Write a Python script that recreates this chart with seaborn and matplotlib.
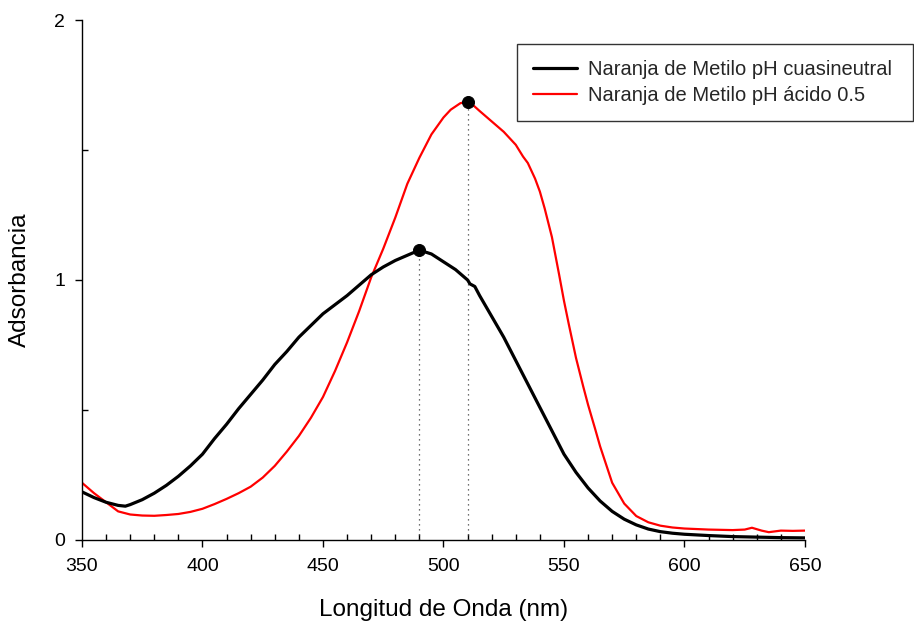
import numpy as np
import pandas as pd
import matplotlib
matplotlib.use("Agg")
import matplotlib.pyplot as plt
import seaborn as sns
from matplotlib.ticker import MultipleLocator
from matplotlib.lines import Line2D

# Espectros
onda_neutro = [350, 355, 360, 365, 368, 370, 375, 380, 385, 390, 395, 400, 405, 410,
               415, 420, 425, 430, 435, 440, 445, 450, 455, 460, 465, 470, 475, 480,
               485, 490, 495, 500, 505, 510, 511, 513, 515, 520, 525, 530, 535, 540,
               545, 550, 555, 560, 565, 570, 575, 580, 585, 590, 595, 600, 610, 620,
               630, 640, 650]
abs_neutro = [0.185, 0.163, 0.145, 0.133, 0.130, 0.136, 0.155, 0.18, 0.21, 0.245, 0.285,
              0.33, 0.39, 0.445, 0.505, 0.56, 0.615, 0.675, 0.725, 0.78, 0.825, 0.87,
              0.905, 0.94, 0.98, 1.02, 1.05, 1.075, 1.095, 1.115, 1.10, 1.07, 1.04, 1.0,
              0.985, 0.975, 0.94, 0.86, 0.78, 0.69, 0.60, 0.51, 0.42, 0.33, 0.26, 0.20,
              0.15, 0.11, 0.08, 0.058, 0.042, 0.032, 0.026, 0.022, 0.017, 0.013, 0.011,
              0.009, 0.008]

onda_acido = [350, 355, 360, 365, 370, 375, 380, 385, 390, 395, 400, 405, 410, 415, 420,
              425, 430, 435, 440, 445, 450, 455, 460, 465, 470, 475, 480, 485, 490, 495,
              500, 503, 507, 510, 512, 515, 520, 525, 530, 533, 535, 538, 540, 542, 545,
              548, 550, 552, 555, 558, 560, 563, 565, 570, 575, 580, 585, 590, 595, 600,
              610, 620, 625, 628, 632, 635, 640, 645, 650]
abs_acido = [0.22, 0.18, 0.145, 0.11, 0.098, 0.094, 0.093, 0.096, 0.10, 0.108, 0.12, 0.138,
             0.158, 0.18, 0.205, 0.24, 0.285, 0.34, 0.40, 0.47, 0.55, 0.65, 0.76, 0.88,
             1.01, 1.12, 1.24, 1.37, 1.47, 1.56, 1.625, 1.655, 1.68, 1.686, 1.675, 1.65,
             1.61, 1.57, 1.52, 1.475, 1.45, 1.39, 1.34, 1.275, 1.165, 1.02, 0.92, 0.83,
             0.70, 0.59, 0.52, 0.425, 0.36, 0.22, 0.14, 0.092, 0.068, 0.055, 0.048, 0.044,
             0.040, 0.038, 0.040, 0.047, 0.036, 0.030, 0.036, 0.035, 0.036]

pico_x = [490, 510]
pico_y = [1.115, 1.686]

etiquetas = ["Naranja de Metilo pH cuasineutral", "Naranja de Metilo pH ácido 0.5"]
colores = ["black", "#ff0000"]

sns.set_theme(style="ticks")
plt.rcParams["font.family"] = ["Liberation Sans", "DejaVu Sans"]

df = pd.concat([
    pd.DataFrame({"onda": onda_neutro, "abs": abs_neutro, "serie": etiquetas[0]}),
    pd.DataFrame({"onda": onda_acido, "abs": abs_acido, "serie": etiquetas[1]}),
])

fig = plt.figure(figsize=(9.14, 6.27), dpi=100)
ax = fig.add_axes([0.0897, 0.1388, 0.791, 0.8293])

# líneas punteadas hasta los máximos
ax.vlines(pico_x, 0, pico_y, colors="#444444", linestyles=(0, (1, 3)), linewidth=0.9)

sns.lineplot(data=df[df["serie"] == etiquetas[1]], x="onda", y="abs", color=colores[1],
             linewidth=1.6, ax=ax, legend=False)
sns.lineplot(data=df[df["serie"] == etiquetas[0]], x="onda", y="abs", color=colores[0],
             linewidth=2.3, ax=ax, legend=False)
sns.scatterplot(x=pico_x, y=pico_y, color="black", s=75, edgecolor="black", ax=ax, zorder=5)

ax.set_xlim(350, 650)
ax.set_ylim(0, 2)
ax.xaxis.set_major_locator(MultipleLocator(50))
ax.xaxis.set_minor_locator(MultipleLocator(10))
ax.yaxis.set_major_locator(MultipleLocator(1))
ax.yaxis.set_minor_locator(MultipleLocator(0.5))
ax.tick_params(which="major", direction="out", length=5, width=1, labelsize=14,
               color="black", labelcolor="black", pad=7)
ax.tick_params(which="minor", direction="in", length=4, width=1, color="black")
ax.tick_params(axis="x", which="major", pad=8)

for lado in ["top", "right"]:
    ax.spines[lado].set_visible(False)
for lado in ["left", "bottom"]:
    ax.spines[lado].set_color("black")
    ax.spines[lado].set_linewidth(1)

ax.set_xlabel("Longitud de Onda (nm)", fontsize=17.5, color="black")
ax.set_ylabel("Adsorbancia", fontsize=17.5, color="black")
ax.xaxis.set_label_coords(0.5, -0.1346)
ax.xaxis.label.set_verticalalignment("center")
ax.yaxis.set_label_coords(-0.0858, 0.5)
ax.yaxis.label.set_verticalalignment("center")

manejadores = [Line2D([0], [0], color=colores[0], linewidth=2.3),
               Line2D([0], [0], color=colores[1], linewidth=1.6)]
leg = fig.legend(manejadores, etiquetas, loc="upper left",
                 bbox_to_anchor=(0.5653, 0.930, 0.4337, 0.0), mode="expand",
                 fontsize=14.5, frameon=True, fancybox=False, handlelength=2.2,
                 handletextpad=0.55, borderpad=0.8, labelspacing=0.35, borderaxespad=0)
leg.get_frame().set_edgecolor("black")
leg.get_frame().set_linewidth(1)

plt.savefig("out.png", dpi=100)
plt.close()
